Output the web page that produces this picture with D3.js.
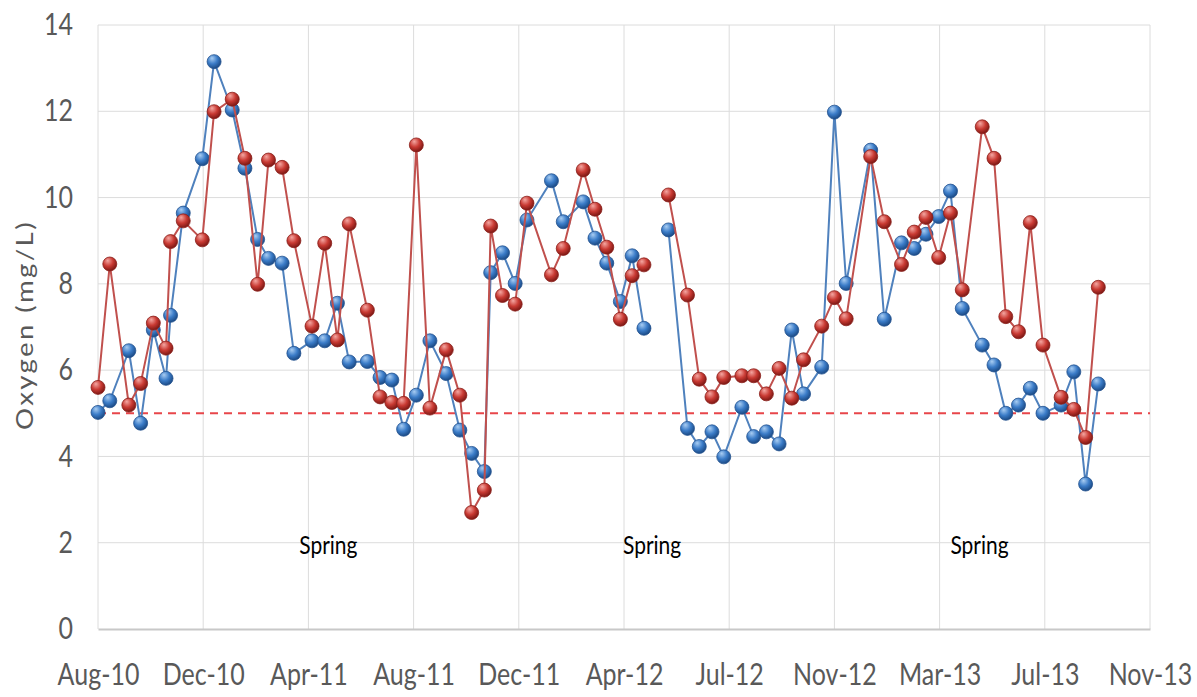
<!DOCTYPE html>
<html>
<head>
<meta charset="utf-8">
<script src="https://cdn.jsdelivr.net/npm/d3@7"></script>
<style>
  body { margin: 0; background: #fff; }
  svg { display: block; }
</style>
</head>
<body>
<div id="chart"></div>
<script>
// sampling dates (empty sample in May-12 leaves a gap in both lines)
const dates = [
  "2010-08-31","2010-09-13","2010-10-04","2010-10-17","2010-10-31","2010-11-14","2010-11-19","2010-12-03",
  "2010-12-24","2011-01-06","2011-01-26","2011-02-09","2011-02-23","2011-03-07","2011-03-22","2011-04-04",
  "2011-04-24","2011-05-08","2011-05-22","2011-06-04","2011-06-24","2011-07-08","2011-07-21","2011-08-03",
  "2011-08-17","2011-09-01","2011-09-19","2011-10-04","2011-10-17","2011-10-31","2011-11-07","2011-11-20",
  "2011-12-04","2011-12-17","2012-01-13","2012-01-26","2012-02-17","2012-03-01","2012-03-14","2012-03-29",
  "2012-04-11","2012-04-24","2012-05-07","2012-05-21","2012-06-11","2012-06-24","2012-07-08","2012-07-21",
  "2012-08-10","2012-08-23","2012-09-06","2012-09-20","2012-10-04","2012-10-17","2012-11-06","2012-11-20",
  "2012-12-03","2012-12-30","2013-01-14","2013-02-02","2013-02-16","2013-03-01","2013-03-15","2013-03-28",
  "2013-04-10","2013-05-02","2013-05-15","2013-05-28","2013-06-11","2013-06-24","2013-07-08","2013-07-28",
  "2013-08-11","2013-08-24","2013-09-07"
];

// blue series
const blueValues = [
  5.02, 5.29, 6.45, 4.77, 6.93, 5.81, 7.27, 9.64,
  10.9, 13.15, 12.03, 10.68, 9.03, 8.59, 8.48, 6.39,
  6.68, 6.68, 7.55, 6.19, 6.20, 5.83, 5.77, 4.63,
  5.42, 6.68, 5.92, 4.61, 4.07, 3.65, 8.26, 8.72,
  8.01, 9.48, 10.39, 9.44, 9.90, 9.06, 8.48, 7.59,
  8.65, 6.97, null, 9.25, 4.65, 4.23, 4.57, 3.99,
  5.14, 4.46, 4.57, 4.29, 6.93, 5.45, 6.07, 11.98,
  8.01, 11.10, 7.18, 8.95, 8.82, 9.15, 9.56, 10.15,
  7.43, 6.58, 6.12, 5.00, 5.19, 5.58, 5.00, 5.19,
  5.96, 3.36, 5.68
];

// red series
const redValues = [
  5.60, 8.46, 5.19, 5.69, 7.09, 6.51, 8.98, 9.46,
  9.02, 11.99, 12.28, 10.91, 7.99, 10.87, 10.70, 9.00,
  7.02, 8.94, 6.70, 9.39, 7.39, 5.38, 5.25, 5.23,
  11.22, 5.12, 6.47, 5.42, 2.70, 3.22, 9.34, 7.73,
  7.53, 9.87, 8.21, 8.82, 10.64, 9.73, 8.85, 7.18,
  8.19, 8.44, null, 10.06, 7.74, 5.79, 5.38, 5.83,
  5.87, 5.87, 5.45, 6.04, 5.35, 6.24, 7.02, 7.68,
  7.19, 10.95, 9.44, 8.45, 9.20, 9.54, 8.61, 9.64,
  7.86, 11.64, 10.91, 7.24, 6.89, 9.42, 6.58, 5.37,
  5.09, 4.44, 7.92
];

const tickDates = [
  "2010-08-31","2010-12-25","2011-04-20","2011-08-14","2011-12-08","2012-04-02",
  "2012-07-27","2012-11-20","2013-03-16","2013-07-10","2013-11-03"
];
const yTicks = [0, 2, 4, 6, 8, 10, 12, 14];
const limit = 5; // dashed reference level
const springLabels = [
  { date: "2011-05-12", text: "Spring" },
  { date: "2012-05-03", text: "Spring" },
  { date: "2013-04-29", text: "Spring" }
];

const width = 1197, height = 697;
const stretch = 1.2; // text in the original is drawn taller than wide
const font = "Lato, sans-serif";
const parse = d3.timeParse("%Y-%m-%d");

const x = d3.scaleTime()
  .domain([parse(tickDates[0]), parse(tickDates[tickDates.length - 1])])
  .range([98, 1150]);
const y = d3.scaleLinear().domain([0, 14]).range([629, 25]);

const svg = d3.select("#chart").append("svg")
  .attr("width", width)
  .attr("height", height);

svg.append("rect").attr("width", width).attr("height", height).attr("fill", "#fff");

// sphere-like marker fills
const defs = svg.append("defs");
function sphere(id, light, mid, dark) {
  const g = defs.append("radialGradient").attr("id", id)
    .attr("cx", "40%").attr("cy", "35%").attr("r", "65%")
    .attr("fx", "35%").attr("fy", "25%");
  g.append("stop").attr("offset", "0%").attr("stop-color", light);
  g.append("stop").attr("offset", "55%").attr("stop-color", mid);
  g.append("stop").attr("offset", "100%").attr("stop-color", dark);
}
sphere("gBlue", "#a9cdf2", "#3b7cc8", "#1b4a85");
sphere("gRed", "#f4a7a2", "#c93a33", "#7d1814");

// gridlines
svg.append("g")
  .selectAll("line")
  .data(yTicks.slice(1))
  .join("line")
  .attr("x1", x.range()[0]).attr("x2", x.range()[1])
  .attr("y1", d => y(d)).attr("y2", d => y(d))
  .attr("stroke", "#dcdcdc").attr("stroke-width", 1);

svg.append("g")
  .selectAll("line")
  .data(tickDates.map(parse))
  .join("line")
  .attr("x1", d => x(d)).attr("x2", d => x(d))
  .attr("y1", y(0)).attr("y2", y(14))
  .attr("stroke", "#dcdcdc").attr("stroke-width", 1);

// x axis
const xAxis = svg.append("g")
  .attr("transform", `translate(0,${y(0)})`)
  .call(d3.axisBottom(x)
    .tickValues(tickDates.map(parse))
    .tickFormat(d3.timeFormat("%b-%y"))
    .tickSize(0));
xAxis.select(".domain").attr("stroke", "#c8c8c8").attr("stroke-width", 2);
xAxis.selectAll("text")
  .attr("y", 56 / stretch)
  .attr("dy", 0)
  .attr("transform", `scale(1,${stretch})`)
  .attr("font-family", font)
  .attr("font-size", 25)
  .attr("fill", "#595959");

// y axis
const yAxis = svg.append("g")
  .attr("transform", `translate(${x.range()[0]},0)`)
  .call(d3.axisLeft(y).tickValues(yTicks).tickSize(0).tickPadding(25));
yAxis.select(".domain").remove();
yAxis.selectAll("text")
  .attr("transform", `scale(1,${stretch})`)
  .attr("font-family", font)
  .attr("font-size", 25)
  .attr("fill", "#595959");

// axis title, stretched along its length like the other text
svg.append("text")
  .attr("transform", `translate(33,325) rotate(-90) scale(${stretch},1)`)
  .attr("text-anchor", "middle")
  .attr("font-family", font)
  .attr("font-size", 23)
  .attr("letter-spacing", 2)
  .attr("fill", "#595959")
  .text("Oxygen  (mg/L)");

// dashed 5 mg/L line
svg.append("line")
  .attr("x1", x.range()[0]).attr("x2", x.range()[1])
  .attr("y1", y(limit)).attr("y2", y(limit))
  .attr("stroke", "#e8464a").attr("stroke-width", 2)
  .attr("stroke-dasharray", "8,6");

// spring labels
svg.append("g")
  .selectAll("text")
  .data(springLabels)
  .join("text")
  .attr("transform", d => `translate(${x(parse(d.date))},${y(1.95)}) scale(1,${stretch})`)
  .attr("text-anchor", "middle")
  .attr("dy", "0.35em")
  .attr("font-family", font)
  .attr("font-size", 21)
  .attr("fill", "#000")
  .text(d => d.text);

function drawSeries(values, lineColor, fill, edge) {
  const data = dates.map((d, i) => ({ date: parse(d), v: values[i] }));
  const line = d3.line()
    .defined(d => d.v != null)
    .x(d => x(d.date))
    .y(d => y(d.v));
  svg.append("path")
    .datum(data)
    .attr("fill", "none")
    .attr("stroke", lineColor)
    .attr("stroke-width", 2)
    .attr("d", line);
  svg.append("g")
    .selectAll("circle")
    .data(data.filter(d => d.v != null))
    .join("circle")
    .attr("cx", d => x(d.date))
    .attr("cy", d => y(d.v))
    .attr("r", 7)
    .attr("fill", fill)
    .attr("stroke", edge)
    .attr("stroke-width", 0.8);
}

drawSeries(blueValues, "#4f81bd", "url(#gBlue)", "#24538f");
drawSeries(redValues, "#c0504d", "url(#gRed)", "#8a1f1b");
</script>
</body>
</html>
